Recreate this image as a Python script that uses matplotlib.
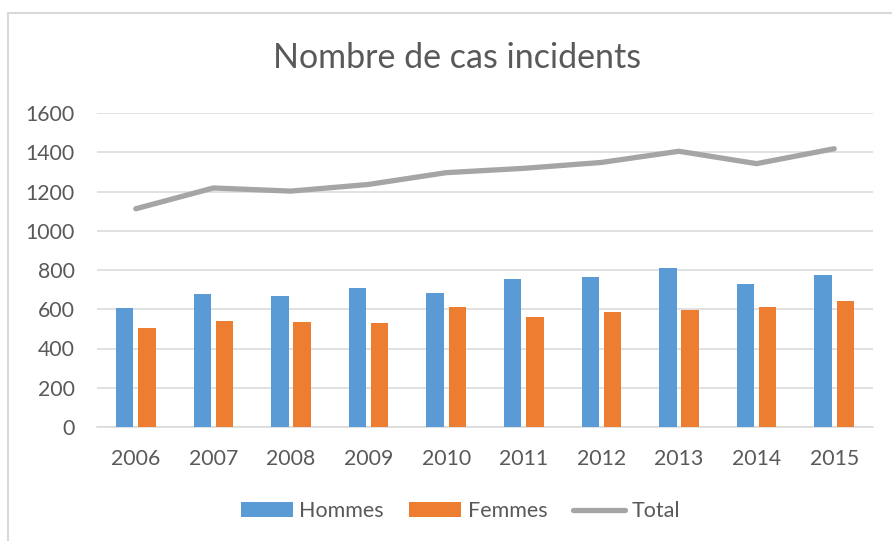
import numpy as np
import matplotlib
matplotlib.use('Agg')
import matplotlib.pyplot as plt
from matplotlib.patches import Rectangle

# Data
years = ['2006', '2007', '2008', '2009', '2010', '2011', '2012', '2013', '2014', '2015']
hommes = [605, 678, 665, 706, 685, 753, 762, 809, 731, 777]
femmes = [505, 539, 534, 529, 611, 563, 585, 595, 611, 640]
total = [1112, 1218, 1202, 1236, 1296, 1318, 1348, 1405, 1342, 1418]

plt.rcParams['font.family'] = ['Lato', 'DejaVu Sans']
text_col = '#595959'
grid_col = '#d9d9d9'

fig = plt.figure(figsize=(8.92, 5.41), dpi=100)
ax = fig.add_axes([97 / 892, 114 / 541, 776 / 892, 314 / 541])

x = np.arange(len(years))
w = 0.225
off = 0.1425
b1 = ax.bar(x - off, hommes, w, color='#5B9BD5', label='Hommes', zorder=3)
b2 = ax.bar(x + off, femmes, w, color='#ED7D31', label='Femmes', zorder=3)
l1, = ax.plot(x, total, color='#A5A5A5', linewidth=3.8, solid_capstyle='round',
              solid_joinstyle='round', label='Total', zorder=4)

ax.set_xlim(-0.5, len(years) - 0.5)
ax.set_ylim(0, 1600)
ax.set_yticks(np.arange(0, 1601, 200))
ax.set_xticks(x)
ax.set_xticklabels(years)
ax.yaxis.grid(True, color=grid_col, linewidth=1.1, zorder=0)
ax.set_axisbelow(True)
for s in ['top', 'right', 'left']:
    ax.spines[s].set_visible(False)
ax.spines['bottom'].set_color(grid_col)
ax.spines['bottom'].set_linewidth(1.1)
ax.tick_params(axis='both', length=0, labelsize=15.3, labelcolor=text_col)
ax.tick_params(axis='x', pad=16)
ax.tick_params(axis='y', pad=16)

fig.text(0.512, 0.893, 'Nombre de cas incidents', ha='center', va='center',
         fontsize=24.5, color=text_col)

fig.legend([b1, b2, l1], ['Hommes', 'Femmes', 'Total'], loc='center',
           bbox_to_anchor=(0.516, 0.0555), ncol=3, frameon=False,
           fontsize=15.5, labelcolor=text_col, handlelength=2.4, handleheight=0.65,
           handletextpad=0.3, columnspacing=1.2)

# outer chart border (cut off on right and bottom like the screenshot)
fig.patches.append(Rectangle((8 / 892, -0.05), 1.0, 1 - 13 / 541 + 0.05,
                             transform=fig.transFigure, fill=False,
                             edgecolor=grid_col, linewidth=1.5))

fig.savefig('out.png', dpi=100)
